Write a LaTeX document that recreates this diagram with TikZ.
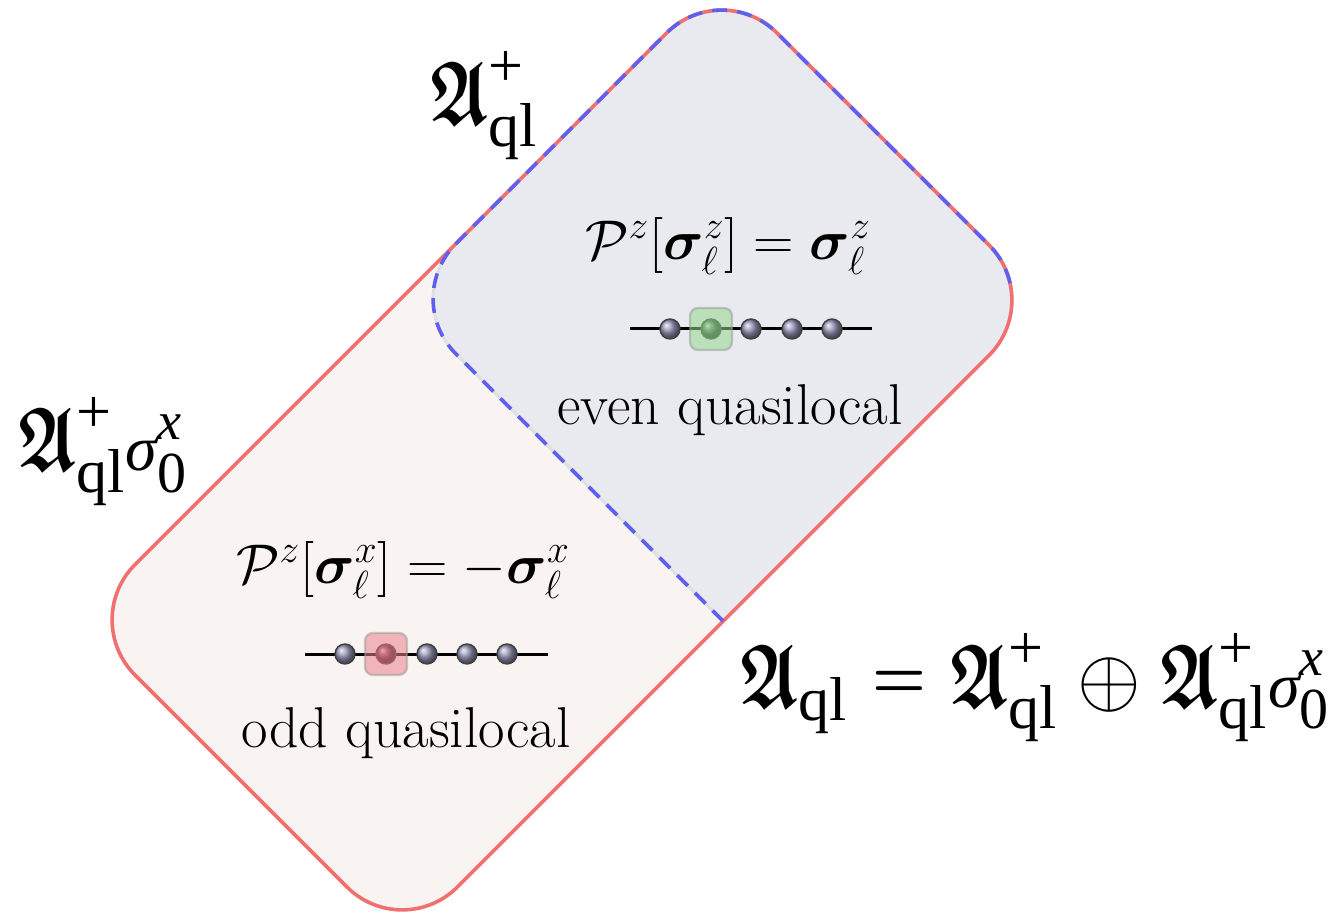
\documentclass[tikz,border=0pt]{standalone}
\usepackage{fix-cm}
\usepackage{amsmath,amssymb,bm}
\usepackage{fontspec}
\newfontfamily\timesf{Liberation Serif}
\usetikzlibrary{calc}
\definecolor{outred}{RGB}{240,112,112}
\definecolor{pinkfill}{RGB}{249,244,241}
\definecolor{bluefill}{RGB}{233,233,240}
\definecolor{dashblue}{RGB}{95,95,240}
\definecolor{ballc}{RGB}{150,150,185}
\definecolor{greenball}{RGB}{70,115,90}
\definecolor{redball}{RGB}{125,45,70}
\definecolor{greenhl}{RGB}{150,215,140}
\definecolor{redhl}{RGB}{235,130,140}
\newcommand{\qlsub}{\hbox{\fontsize{31}{31}\selectfont\timesf ql}}
\newcommand{\plussup}{\hbox{\fontsize{31}{31}\selectfont\timesf +}}
\newcommand{\fA}{\mathord{\scalebox{0.78}[1.03]{$\bm{\mathfrak{A}}$}}}
\newcommand{\Aplus}{\fA^{\plussup}_{\qlsub}}
\newcommand{\sigx}{\mathord{\hbox{\fontsize{32}{32}\selectfont\timesf\itshape σ}}^{\hbox{\fontsize{27}{27}\selectfont\timesf\itshape x}}_{\hbox{\fontsize{29}{29}\selectfont\timesf 0}}}
\newcommand{\bigeq}{\mathrel{\vcenter{\hbox{\scalebox{0.7}[0.8]{$\bm{=}$}}}}}
\newcommand{\myoplus}{\mathbin{\vcenter{\hbox{\scalebox{0.93}{$\oplus$}}}}}
\newcommand{\lblsize}{\fontsize{44}{52}\selectfont}
\newcommand{\txtsize}{\fontsize{28.8}{34}\selectfont}
\newcommand{\frmsize}{\fontsize{28}{34}\selectfont}
\tikzset{
  chainline/.style={line width=1.5pt, black},
  site/.style={circle, minimum size=10pt, inner sep=0pt, shading=ball, ball color=ballc, draw=black!75, line width=0.7pt},
  hlbox/.style={rectangle, minimum size=21pt, inner sep=0pt, rounded corners=4pt, fill opacity=0.55, draw=black!40, draw opacity=0.5, line width=1.2pt},
  inner text/.style={font=\txtsize, inner sep=0pt},
  inner formula/.style={font=\frmsize, inner sep=0pt},
  biglabel/.style={font=\lblsize, inner sep=0pt, anchor=base west},
}
\begin{document}
\begin{tikzpicture}[x=0.5pt,y=-0.5pt]
\useasboundingbox (0,0) rectangle (1337,913);
\coordinate (T) at (721.8,-22.2);
\coordinate (R) at (1044.2,300.2);
\coordinate (B) at (402.2,942.2);
\coordinate (L) at (79.8,619.8);
\coordinate (D1) at (400.8,298.8);
\coordinate (D2) at (723.2,621.2);
\coordinate (R2) at ($(R)!0.5!(D2)$);
% pink whole region
\fill[pinkfill, rounded corners=39pt] ($(T)!0.5!(R)$) -- (R) -- (B) -- (L) -- (T) -- cycle;
% blue even region
\path[fill=bluefill, draw=black!12, line width=1.5pt] (D2) [rounded corners=39pt] -- (D1) -- (T) -- (R) -- (R2) [sharp corners] -- (D2) -- cycle;
% outer red outline
\draw[outred, line width=1.8pt, rounded corners=39pt] ($(T)!0.5!(R)$) -- (R) -- (B) -- (L) -- (T) -- cycle;
% dashed blue outline (stops just round the right corner)
\begin{scope}
\clip (0,-60) -- (1400,-60) -- (1400,288) -- (850,288) -- (850,960) -- (0,960) -- cycle;
\draw[dashblue, line width=1.8pt, dash pattern=on 7.5pt off 5pt, rounded corners=39pt] (D2) -- (D1) -- (T) -- (R) -- (R2);
\end{scope}

% even chain
\coordinate (ta) at (630,329);
\coordinate (tb) at (872,329);
\draw[chainline] (ta) -- (tb);
\node[site] (t1) at (670,329) {};
\node[site, ball color=greenball] (t2) at (711,329) {};
\node[site] (t3) at (751,329) {};
\node[site] (t4) at (792,329) {};
\node[site] (t5) at (832,329) {};
\node[hlbox, fill=greenhl] (tg) at (t2) {};

% odd chain
\coordinate (ba) at (305,654);
\coordinate (bb) at (548,654);
\draw[chainline] (ba) -- (bb);
\node[site] (b1) at (345,654) {};
\node[site, ball color=redball] (b2) at (386,654) {};
\node[site] (b3) at (427,654) {};
\node[site] (b4) at (467,654) {};
\node[site] (b5) at (507,654) {};
\node[hlbox, fill=redhl] (bg) at (b2) {};

% texts
\node[inner formula] (evenf) at (728,246) {$\mathcal{P}^z[\bm{\sigma}^z_\ell] = \bm{\sigma}^z_\ell$};
\node[inner text] (event) at (730,410) {even quasilocal};
\node[inner formula] (oddf) at (403,570) {$\mathcal{P}^z[\bm{\sigma}^x_\ell] = -\bm{\sigma}^x_\ell$};
\node[inner text] (oddt) at (406,733) {odd quasilocal};

% labels
\node[biglabel] (lplus) at (430,125) {$\Aplus$};
\node[biglabel] (lminus) at (18,471) {$\Aplus\sigx$};
\node[biglabel] (lsum) at (740,707) {$\fA_{\qlsub} \bigeq \Aplus \myoplus \Aplus\sigx$};
\end{tikzpicture}
\end{document}
